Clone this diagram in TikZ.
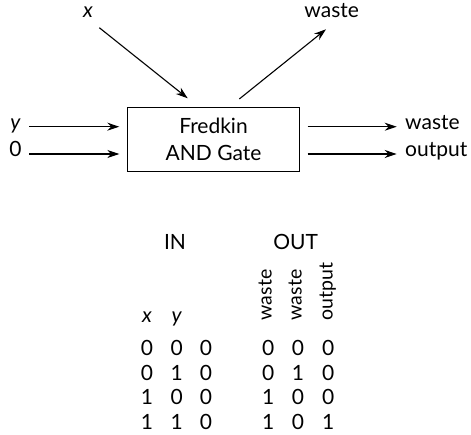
\documentclass[tikz,border=0pt]{standalone}
\usepackage{fontspec}
\setmainfont{Lato}
\usetikzlibrary{arrows.meta}
\begin{document}
\begin{tikzpicture}[x=1pt,y=-1pt,
  every node/.style={font=\fontsize{21}{24}\selectfont, inner sep=0pt},
  wire/.style={line width=1.1pt, -{Stealth[length=12pt,width=8pt]}},
  gatebox/.style={draw, line width=1.1pt, minimum width=171.6pt, minimum height=64pt,
    align=center, font=\fontsize{21}{27.3}\selectfont},
  lbl/.style={anchor=mid},
  colhead/.style={rotate=90, anchor=mid west, font=\fontsize{19.5}{22}\selectfont},
  cell/.style={anchor=center}]
\useasboundingbox (0,0) rectangle (471,435);

% gate
\node[gatebox] (gate) at (213.5,139.7) {Fredkin\\AND Gate};

% inputs on the left
\node[lbl] (ly) at (15.5,126.7) {\itshape y};
\node[lbl] (l0) at (15.5,154) {0};
\coordinate (ys) at (29.3,126.7);
\coordinate (ye) at (119.3,126.7);
\coordinate (zs) at (29.3,154);
\coordinate (ze) at (119.3,154);
\draw[wire] (ys) -- (ye);
\draw[wire] (zs) -- (ze);

% outputs on the right
\coordinate (w1s) at (307.7,126.7);
\coordinate (w1e) at (396.7,126.7);
\coordinate (o1s) at (307.7,154);
\coordinate (o1e) at (396.7,154);
\draw[wire] (w1s) -- (w1e);
\draw[wire] (o1s) -- (o1e);
\node[lbl, anchor=mid west] (rw) at (405,126.7) {waste};
\node[lbl, anchor=mid west] (ro) at (405,154) {output};

% control input x and its waste output
\node[lbl] (lx) at (88,15) {\itshape x};
\coordinate (xs) at (99.3,27.7);
\coordinate (xe) at (187.7,98.3);
\draw[wire] (xs) -- (xe);
\node[lbl] (tw) at (331.7,15) {waste};
\coordinate (ts) at (239.3,99);
\coordinate (te) at (326,29.3);
\draw[wire] (ts) -- (te);

% truth table
\node[cell] (hin) at (175,241.7) {IN};
\node[cell] (hout) at (295.7,241.7) {OUT};
\node[lbl] (hx) at (147,320) {\itshape x};
\node[lbl] (hy) at (176.7,320) {\itshape y};
\node[colhead] (hw1) at (269,320.5) {waste};
\node[colhead] (hw2) at (299,320.5) {waste};
\node[colhead] (ho) at (330,320.5) {output};

\foreach \r/\a/\b/\c/\d/\e/\f [count=\i] in
  {348/0/0/0/0/0/0, 372.5/0/1/0/0/1/0, 397/1/0/0/1/0/0, 421.5/1/1/0/1/0/1} {
  \node[cell] (a\i) at (147,\r) {\a};
  \node[cell] (b\i) at (176.7,\r) {\b};
  \node[cell] (c\i) at (206,\r) {\c};
  \node[cell] (d\i) at (268.3,\r) {\d};
  \node[cell] (e\i) at (298,\r) {\e};
  \node[cell] (f\i) at (328.3,\r) {\f};
}
\end{tikzpicture}
\end{document}
